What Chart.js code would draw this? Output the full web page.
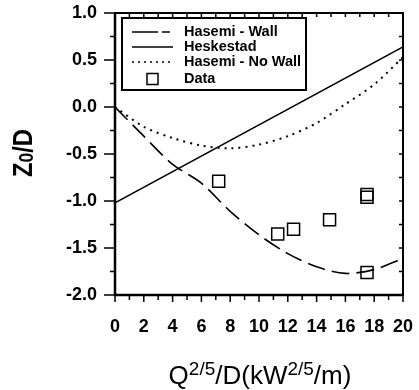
<!DOCTYPE html>
<html>
<head>
<meta charset="utf-8">
<script src="https://cdn.jsdelivr.net/npm/chart.js@4/dist/chart.umd.min.js"></script>
<style>
  html, body { margin: 0; padding: 0; background: #fff; }
  #wrap { width: 419px; height: 390px; }
</style>
</head>
<body>
<div id="wrap"><canvas id="c"></canvas></div>
<script>
// courbes
const wallX = [0, 2, 4, 6, 8, 10, 12, 14, 16, 18, 20];
const wallY = [0, -0.31, -0.61, -0.81, -1.11, -1.36, -1.56, -1.70, -1.77, -1.73, -1.61];

const heskX = [0, 20];
const heskY = [-1.02, 0.64];

const noWallX = [0, 2, 4, 6, 8, 10, 12, 14, 16, 18, 20];
const noWallY = [0, -0.21, -0.33, -0.41, -0.44, -0.40, -0.31, -0.17, 0.03, 0.24, 0.53];

// points de mesure
const dataX = [7.2, 11.3, 12.4, 14.9, 17.5, 17.5, 17.5];
const dataY = [-0.79, -1.35, -1.30, -1.20, -0.93, -0.96, -1.76];

const seriesNames = ['Hasemi - Wall', 'Heskestad', 'Hasemi - No Wall', 'Data'];

const FONT = '"Liberation Sans", Arial, sans-serif';
const toXY = (xs, ys) => xs.map((x, i) => ({ x: x, y: ys[i] }));

// cadre, graduations, titres et légende dessinés à la main
const decor = {
  id: 'decor',
  afterDraw(chart) {
    const ctx = chart.ctx;
    const a = chart.chartArea;
    const xs = chart.scales.x, ys = chart.scales.y;
    ctx.save();
    ctx.strokeStyle = '#000';
    ctx.lineWidth = 2;
    ctx.strokeRect(a.left, a.top, a.right - a.left, a.bottom - a.top);
    // axes gauche et bas un peu plus épais
    ctx.lineWidth = 2.5;
    ctx.beginPath();
    ctx.moveTo(a.left, a.top); ctx.lineTo(a.left, a.bottom); ctx.lineTo(a.right, a.bottom);
    ctx.stroke();

    ctx.lineWidth = 1.5;
    ctx.beginPath();
    for (let v = 0; v <= 20; v += 1) {
      const px = xs.getPixelForValue(v);
      const len = v % 2 === 0 ? 7 : 5;
      ctx.moveTo(px, a.bottom); ctx.lineTo(px, a.bottom + len);
      ctx.moveTo(px, a.top); ctx.lineTo(px, a.top + 4);
    }
    for (let v = -2; v <= 1.0001; v += 0.25) {
      const py = ys.getPixelForValue(v);
      const major = Math.abs(v * 2 - Math.round(v * 2)) < 1e-6;
      ctx.moveTo(a.left, py); ctx.lineTo(a.left - (major ? 11 : 5), py);
      ctx.moveTo(a.right, py); ctx.lineTo(a.right - 4, py);
    }
    ctx.stroke();

    // titre de l'axe x
    ctx.fillStyle = '#000';
    ctx.textBaseline = 'alphabetic';
    const big = '26px ' + FONT;
    const sup = '19px ' + FONT;
    const parts = [['Q', big, 0], ['2/5', sup, -9], ['/D(kW', big, 0], ['2/5', sup, -9], ['/m)', big, 0]];
    let w = 0;
    parts.forEach(p => { ctx.font = p[1]; w += ctx.measureText(p[0]).width; });
    let x = (a.left + a.right) / 2 - w / 2 + 1;
    const base = 384;
    parts.forEach(p => {
      ctx.font = p[1];
      ctx.fillText(p[0], x, base + p[2]);
      x += ctx.measureText(p[0]).width;
    });

    // titre de l'axe y
    ctx.save();
    ctx.translate(32, 153);
    ctx.rotate(-Math.PI / 2);
    ctx.scale(0.88, 1);
    const yparts = [['Z', 'bold 27px ' + FONT, 0], ['0', 'bold 20px ' + FONT, 1], ['/D', 'bold 27px ' + FONT, 0]];
    w = 0;
    yparts.forEach(p => { ctx.font = p[1]; w += ctx.measureText(p[0]).width; });
    x = -w / 2;
    yparts.forEach(p => {
      ctx.font = p[1];
      ctx.fillText(p[0], x, p[2]);
      x += ctx.measureText(p[0]).width;
    });
    ctx.restore();

    // légende
    const lx = a.left + 7, ly = a.top + 5;
    ctx.lineWidth = 2;
    ctx.fillStyle = '#fff';
    ctx.fillRect(lx, ly, 184, 72);
    ctx.strokeRect(lx, ly, 184, 72);
    ctx.fillStyle = '#000';
    ctx.font = 'bold 14.5px ' + FONT;
    ctx.textBaseline = 'middle';
    const styles = [[26, 4, 8, 4], [], [2, 4]];
    seriesNames.forEach((name, i) => {
      const ry = ly + 14 + i * 15 + (i === 3 ? 2 : 0);
      if (i < 3) {
        ctx.beginPath();
        ctx.lineWidth = 1.5;
        ctx.setLineDash(styles[i]);
        ctx.moveTo(lx + 10, ry); ctx.lineTo(lx + 51, ry);
        ctx.stroke();
        ctx.setLineDash([]);
      } else {
        ctx.lineWidth = 1.5;
        ctx.strokeRect(lx + 25, ry - 5.5, 11, 11);
      }
      ctx.fillText(name, lx + 62, ry);
    });
    ctx.restore();
  }
};

new Chart(document.getElementById('c'), {
  type: 'scatter',
  data: {
    datasets: [
      {
        label: seriesNames[0],
        data: toXY(wallX, wallY),
        showLine: true,
        borderColor: '#000',
        borderWidth: 1.6,
        borderDash: [18, 7],
        pointRadius: 0,
        tension: 0.3
      },
      {
        label: seriesNames[1],
        data: toXY(heskX, heskY),
        showLine: true,
        borderColor: '#000',
        borderWidth: 1.6,
        pointRadius: 0
      },
      {
        label: seriesNames[2],
        data: toXY(noWallX, noWallY),
        showLine: true,
        borderColor: '#000',
        borderWidth: 2,
        borderDash: [2, 5],
        pointRadius: 0,
        tension: 0.3
      },
      {
        label: seriesNames[3],
        data: toXY(dataX, dataY),
        pointStyle: 'rect',
        pointRadius: 8.5,
        borderWidth: 1.5,
        borderColor: '#000',
        backgroundColor: 'rgba(255,255,255,0)'
      }
    ]
  },
  options: {
    responsive: true,
    maintainAspectRatio: false,
    animation: false,
    layout: { padding: { left: 0, right: 16, top: 13, bottom: 0 } },
    plugins: {
      legend: { display: false },
      tooltip: { enabled: false }
    },
    scales: {
      x: {
        type: 'linear',
        min: 0,
        max: 20,
        grid: { display: false },
        border: { display: false },
        ticks: {
          stepSize: 2,
          padding: 13,
          color: '#000',
          font: { family: FONT, size: 18, weight: 'bold' }
        },
        afterFit(scale) {
          scale.height = 95;
          scale.paddingLeft = 0;
          scale.paddingRight = 0;
        }
      },
      y: {
        min: -2,
        max: 1,
        grid: { display: false },
        border: { display: false },
        ticks: {
          stepSize: 0.5,
          padding: 10,
          color: '#000',
          font: { family: FONT, size: 18, weight: 'bold' },
          callback: v => v.toFixed(1)
        },
        afterFit(scale) {
          scale.width = 115;
          scale.paddingTop = 0;
          scale.paddingBottom = 0;
        }
      }
    }
  },
  plugins: [decor]
});
</script>
</body>
</html>
